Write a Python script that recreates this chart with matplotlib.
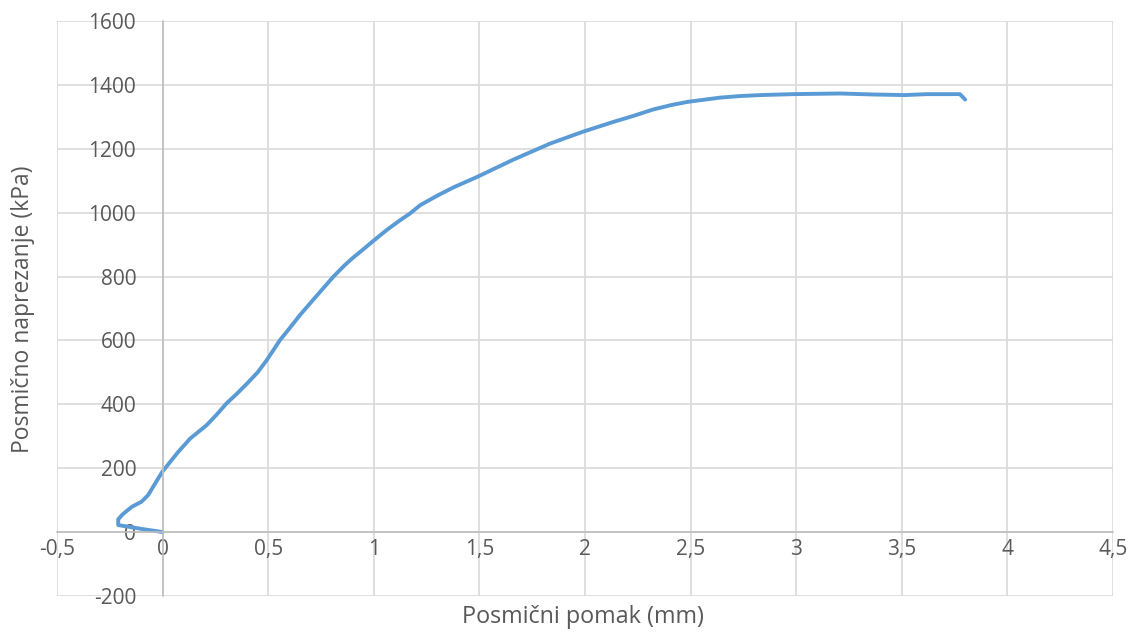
import matplotlib.pyplot as plt
from matplotlib.ticker import FuncFormatter

plt.rcParams['font.family'] = ['Open Sans', 'DejaVu Sans']

# shear displacement (mm) and shear stress (kPa)
pomak = [0.0, -0.1, -0.21, -0.21, -0.19, -0.146, -0.1, -0.068, -0.028, 0.0,
         0.074, 0.131, 0.209, 0.255, 0.303, 0.35, 0.4, 0.45, 0.493, 0.556,
         0.6, 0.65, 0.73, 0.808, 0.86, 0.9, 0.95, 0.993, 1.06, 1.124, 1.171,
         1.219, 1.3, 1.377, 1.49, 1.661, 1.834, 1.989, 2.134, 2.23,
         2.323, 2.41, 2.488, 2.639, 2.734, 2.829, 2.986, 3.208, 3.36, 3.513,
         3.618, 3.775, 3.8]
naprezanje = [0, 10, 22, 40, 55, 79, 95, 116, 160, 190,
              251, 293, 335, 367, 403, 432, 465, 500, 538, 601,
              637, 679, 740, 799, 834, 858, 885, 909, 945, 976, 997,
              1023, 1053, 1079, 1112, 1166, 1216, 1253, 1284, 1303,
              1323, 1337, 1347, 1360, 1365, 1368, 1371, 1373, 1370, 1368,
              1371, 1371, 1354]

xticks = [-0.5, 0, 0.5, 1, 1.5, 2, 2.5, 3, 3.5, 4, 4.5]
yticks = [-200, 0, 200, 400, 600, 800, 1000, 1200, 1400, 1600]

fig = plt.figure(figsize=(11.28, 6.32), dpi=100)
ax = fig.add_axes([0.0505, 0.057, 0.9362, 0.9098])

ax.plot(pomak, naprezanje, color='#5B9BD5', linewidth=2.8,
        solid_capstyle='round', solid_joinstyle='round')

ax.set_xlim(-0.5, 4.5)
ax.set_ylim(-200, 1600)
ax.set_xticks(xticks)
ax.set_yticks(yticks)
ax.grid(True, color='#D9D9D9', linewidth=1.2)
ax.set_axisbelow(True)

ax.spines['left'].set_position(('data', 0))
ax.spines['bottom'].set_position(('data', 0))
ax.spines['top'].set_visible(False)
ax.spines['right'].set_visible(False)
for s in ['left', 'bottom']:
    ax.spines[s].set_color('#BFBFBF')
    ax.spines[s].set_linewidth(1.2)

fmt = FuncFormatter(lambda v, p: ('%g' % v).replace('.', ','))
ax.xaxis.set_major_formatter(fmt)
ax.yaxis.set_major_formatter(fmt)
ax.tick_params(axis='both', length=0, labelsize=15, colors='#595959')
ax.tick_params(axis='x', pad=5)
ax.tick_params(axis='y', pad=19)

fig.text(0.517, 0.024, 'Posmični pomak (mm)', ha='center', va='center',
         fontsize=16.8, color='#595959')
fig.text(0.0204, 0.511, 'Posmično naprezanje (kPa)', ha='center', va='center',
         rotation=90, fontsize=16.5, color='#595959')

fig.savefig('out.png', dpi=100)
